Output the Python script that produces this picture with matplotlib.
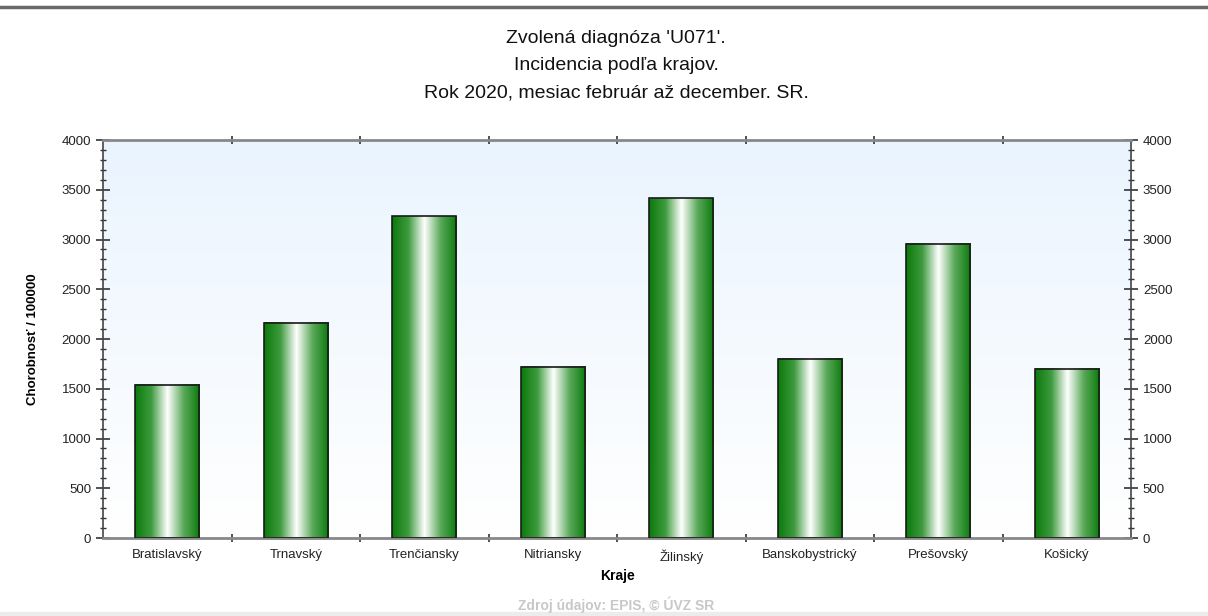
"""Incidence of U071 by region, Slovakia 2020."""
import numpy as np
import matplotlib
matplotlib.use("Agg")
from matplotlib import pyplot as plt
from matplotlib.colors import LinearSegmentedColormap
from matplotlib.ticker import MultipleLocator

plt.rcParams["font.family"] = ["Liberation Sans", "DejaVu Sans"]

kraje = ["Bratislavský", "Trnavský", "Trenčiansky", "Nitriansky",
         "Žilinský", "Banskobystrický", "Prešovský", "Košický"]
chorobnost = [1540, 2165, 3235, 1722, 3415, 1800, 2955, 1700]

title_lines = ["Zvolená diagnóza 'U071'.", "Incidencia podľa krajov.",
               "Rok 2020, mesiac február až december. SR."]

fig = plt.figure(figsize=(12.08, 6.16), dpi=100)
ax = fig.add_axes([0.0853, 0.1266, 0.851, 0.6461])

# background gradient (light blue top -> white bottom)
bg = np.linspace(0, 1, 256).reshape(-1, 1)
bg_cmap = LinearSegmentedColormap.from_list("bg", ["#ffffff", "#eaf4fe"])
ax.imshow(bg, cmap=bg_cmap, aspect="auto", extent=[0, 1, 0, 1],
          transform=ax.transAxes, origin="lower", zorder=0)

x = np.arange(len(kraje))
bars = ax.bar(x, chorobnost, width=0.5, facecolor="none",
              edgecolor="#1a1a1a", linewidth=1.2, zorder=3)

bar_cmap = LinearSegmentedColormap.from_list(
    "bar", ["#0b7a0b", "#3e9a3e", "#ffffff", "#5aa95a", "#0b7a0b"])
grad = np.linspace(0, 1, 256).reshape(1, -1)
for b in bars:
    ax.imshow(grad, cmap=bar_cmap, aspect="auto", zorder=2,
              extent=[b.get_x(), b.get_x() + b.get_width(), 0, b.get_height()])

ax.set_xlim(-0.5, len(kraje) - 0.5)
ax.set_ylim(0, 4000)

ax.set_xticks(x)
ax.set_xticklabels(kraje, fontsize=9.5, color="#222222")
ax.tick_params(axis="x", which="major", length=0, pad=8)
ax.set_xticks(x[:-1] + 0.5, minor=True)
ax.tick_params(axis="x", which="minor", length=6, direction="inout",
               width=1.2, color="#333333", top=True)

ax.yaxis.set_major_locator(MultipleLocator(500))
ax.yaxis.set_minor_locator(MultipleLocator(100))
ax.tick_params(axis="y", which="major", length=10, direction="inout", width=1.2,
               color="#333333", labelsize=9.5, labelcolor="#222222",
               left=True, right=True, labelleft=True, labelright=True)
ax.tick_params(axis="y", which="minor", length=5, direction="inout", width=1,
               color="#333333", left=True, right=True)

for side in ["left", "right"]:
    ax.spines[side].set_color("#444444")
    ax.spines[side].set_linewidth(1.2)
for side in ["top", "bottom"]:
    ax.spines[side].set_color("#888888")
    ax.spines[side].set_linewidth(2)

ax.set_xlabel("Kraje", fontsize=10, fontweight="bold", labelpad=4)
ax.set_ylabel("Chorobnosť / 100000", fontsize=9.5, fontweight="bold", labelpad=16)

fig.text(0.51, 0.893, "\n".join(title_lines), ha="center", va="center",
         fontsize=14, linespacing=1.8, color="#111111")
fig.text(0.51, 0.018, "Zdroj údajov: EPIS, © ÚVZ SR", ha="center",
         va="center", fontsize=10, fontweight="bold", color="#c8c8c8")

# frame lines of the original page
fig.add_artist(plt.Line2D([0, 1], [1 - 7 / 616] * 2, color="#6a6a6a",
                          linewidth=2.5, transform=fig.transFigure))
fig.add_artist(plt.Rectangle((0, 0), 1, 4 / 616, color="#ececec",
                             transform=fig.transFigure))

fig.savefig("out.png", dpi=100)
plt.close(fig)
